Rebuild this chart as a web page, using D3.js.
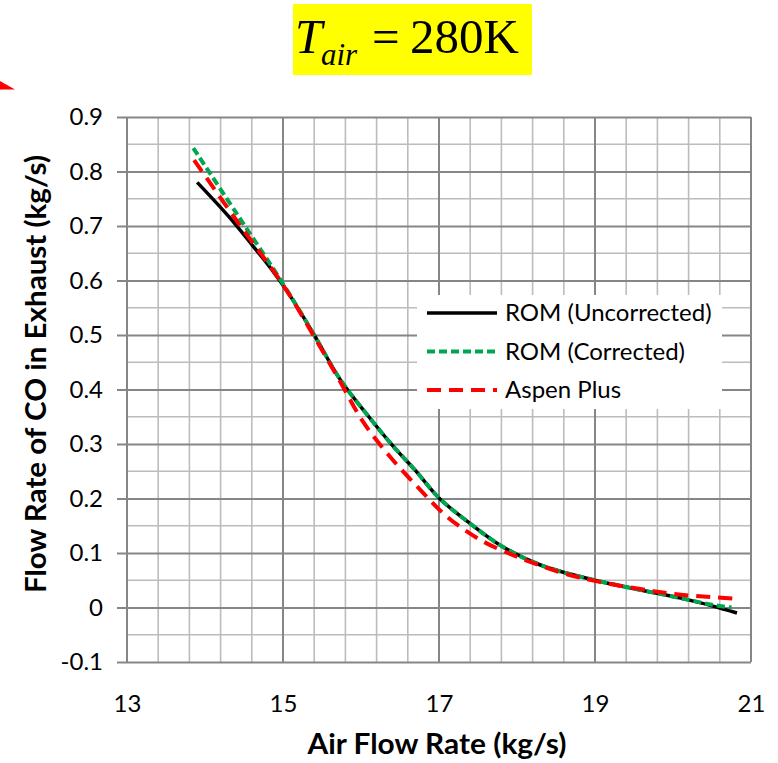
<!DOCTYPE html>
<html>
<head>
<meta charset="utf-8">
<script src="https://cdn.jsdelivr.net/npm/d3@7"></script>
<style>
  body { margin: 0; background: #fff; }
  svg { display: block; }
</style>
</head>
<body>
<div id="chart"></div>
<script>
// data
const xTicks = [13, 15, 17, 19, 21];
const yTicks = [-0.1, 0, 0.1, 0.2, 0.3, 0.4, 0.5, 0.6, 0.7, 0.8, 0.9];

const romUncorrected = [
  [13.9, 0.78], [14.3, 0.718], [14.6, 0.666], [14.85, 0.621], [15.1, 0.57],
  [15.4, 0.50], [15.73, 0.419], [16.1, 0.35], [16.4, 0.298], [16.7, 0.251],
  [17.0, 0.201], [17.4, 0.154], [17.8, 0.113], [18.3, 0.078],
  [19.0, 0.05], [19.8, 0.026], [20.2, 0.014], [20.5, 0.003],
  [20.82, -0.01]
];
const romCorrected = [
  [13.85, 0.843], [14.4, 0.724], [15.0, 0.594],
  [15.4, 0.50], [15.73, 0.419], [16.1, 0.35], [16.4, 0.298], [16.7, 0.251],
  [17.0, 0.201], [17.4, 0.154], [17.8, 0.113], [18.3, 0.078],
  [19.0, 0.05], [19.8, 0.026], [20.2, 0.014], [20.5, 0.005],
  [20.75, 0.0]
];
const aspenPlus = [
  [13.86, 0.821], [14.4, 0.711], [15.0, 0.592],
  [15.4, 0.497], [15.73, 0.415], [16.03, 0.34], [16.37, 0.277], [16.76, 0.216],
  [17.1, 0.167], [17.53, 0.124], [17.95, 0.096], [18.3, 0.077], [18.64, 0.061],
  [19.06, 0.047], [19.75, 0.03], [20.13, 0.023], [20.5, 0.019], [20.8, 0.016]
];

const series = [
  { name: "ROM (Uncorrected)", values: romUncorrected, color: "#000000", width: 3.5, dash: null },
  { name: "ROM (Corrected)", values: romCorrected, color: "#00a650", width: 4, dash: "8,4" },
  { name: "Aspen Plus", values: aspenPlus, color: "#ff0000", width: 4, dash: "14,8" }
];

const width = 778;
const height = 763;
const margin = { top: 117, right: 27, bottom: 101, left: 127 };
const font = "Lato, 'Open Sans', sans-serif";

const svg = d3.select("#chart").append("svg")
  .attr("width", width)
  .attr("height", height);

const x = d3.scaleLinear().domain([13, 21]).range([margin.left, width - margin.right]);
const y = d3.scaleLinear().domain([-0.1, 0.9]).range([height - margin.bottom, margin.top]);

/* Title */
const title = svg.append("g").attr("font-family", "'Liberation Serif', 'Times New Roman', serif");
title.append("rect")
  .attr("x", 293).attr("y", 4).attr("width", 239).attr("height", 71)
  .attr("fill", "#ffff00");
title.append("text").attr("x", 295).attr("y", 53)
  .attr("font-size", 49).attr("font-style", "italic").text("T");
title.append("text").attr("x", 321).attr("y", 65)
  .attr("font-size", 31).attr("font-style", "italic").text("air");
title.append("text").attr("x", 372).attr("y", 53)
  .attr("font-size", 49).text("=");
title.append("text").attr("x", 410).attr("y", 53)
  .attr("font-size", 49).text("280K");

/* bit of a red arrow cut off at the slide edge */
svg.append("path")
  .attr("d", "M0,81 L15,89.5 L0,89.5 Z")
  .attr("fill", "#ff0000");

/* Grid */
const grid = svg.append("g");
grid.selectAll("line.vminor")
  .data(d3.range(13, 21.001, 0.4))
  .join("line")
  .attr("x1", (d) => x(d)).attr("x2", (d) => x(d))
  .attr("y1", y(0.9)).attr("y2", y(-0.1))
  .attr("stroke", "#bcbcbc").attr("stroke-width", 1.6);
grid.selectAll("line.hminor")
  .data(d3.range(-0.05, 0.9, 0.1))
  .join("line")
  .attr("x1", x(13)).attr("x2", x(21))
  .attr("y1", (d) => y(d)).attr("y2", (d) => y(d))
  .attr("stroke", "#bcbcbc").attr("stroke-width", 1.6);
grid.selectAll("line.vmajor")
  .data(xTicks)
  .join("line")
  .attr("x1", (d) => x(d)).attr("x2", (d) => x(d))
  .attr("y1", y(0.9)).attr("y2", y(-0.1))
  .attr("stroke", "#868686").attr("stroke-width", 2);

/* Y axis: ticks stick out to the left */
svg.append("g")
  .attr("transform", `translate(${x(21)},0)`)
  .call(d3.axisLeft(y).tickValues(yTicks).tickSize(x(21) - x(13) + 10).tickPadding(14)
    .tickFormat((d) => (Math.abs(d) < 1e-9 ? "0" : d3.format(".1f")(d).replace("\u2212", "-"))))
  .call((g) => g.select(".domain").remove())
  .call((g) => g.selectAll(".tick line").attr("stroke", "#868686").attr("stroke-width", 2))
  .call((g) => g.selectAll(".tick text")
    .attr("font-family", font)
    .attr("font-size", 24).attr("fill", "#000"));

/* X axis labels, no tick marks */
svg.append("g")
  .attr("transform", `translate(0,${y(-0.1)})`)
  .call(d3.axisBottom(x).tickValues(xTicks).tickSize(0).tickPadding(33))
  .call((g) => g.select(".domain").remove())
  .call((g) => g.selectAll(".tick text")
    .attr("font-family", font)
    .attr("font-size", 24).attr("fill", "#000"));

/* Axis titles */
svg.append("text")
  .attr("x", 437).attr("y", 754)
  .attr("text-anchor", "middle")
  .attr("font-family", font)
  .attr("font-weight", "bold").attr("font-size", 28)
  .attr("textLength", 259).attr("lengthAdjust", "spacingAndGlyphs")
  .text("Air Flow Rate (kg/s)");
svg.append("text")
  .attr("transform", "translate(46,374) rotate(-90)")
  .attr("text-anchor", "middle")
  .attr("font-family", font)
  .attr("font-weight", "bold").attr("font-size", 28)
  .attr("textLength", 438).attr("lengthAdjust", "spacingAndGlyphs")
  .text("Flow Rate of CO in Exhaust (kg/s)");

/* Lines */
const line = d3.line()
  .x((d) => x(d[0]))
  .y((d) => y(d[1]))
  .curve(d3.curveCatmullRom.alpha(0.5));

svg.append("g")
  .selectAll("path")
  .data(series)
  .join("path")
  .attr("d", (d) => line(d.values))
  .attr("fill", "none")
  .attr("stroke", (d) => d.color)
  .attr("stroke-width", (d) => d.width)
  .attr("stroke-dasharray", (d) => d.dash);

/* Legend */
const legend = svg.append("g");
legend.append("rect")
  .attr("x", 417).attr("y", 295).attr("width", 305).attr("height", 114)
  .attr("fill", "#fff");
const item = legend.selectAll("g")
  .data(series)
  .join("g")
  .attr("transform", (d, i) => `translate(427,${313 + i * 38.5})`);
item.append("line")
  .attr("x1", 0).attr("x2", 70)
  .attr("stroke", (d) => d.color)
  .attr("stroke-width", (d) => d.width)
  .attr("stroke-dasharray", (d) => d.dash);
item.append("text")
  .attr("x", 78).attr("dy", "0.35em")
  .attr("font-family", font)
  .attr("font-size", 24)
  .text((d) => d.name);
</script>
</body>
</html>
